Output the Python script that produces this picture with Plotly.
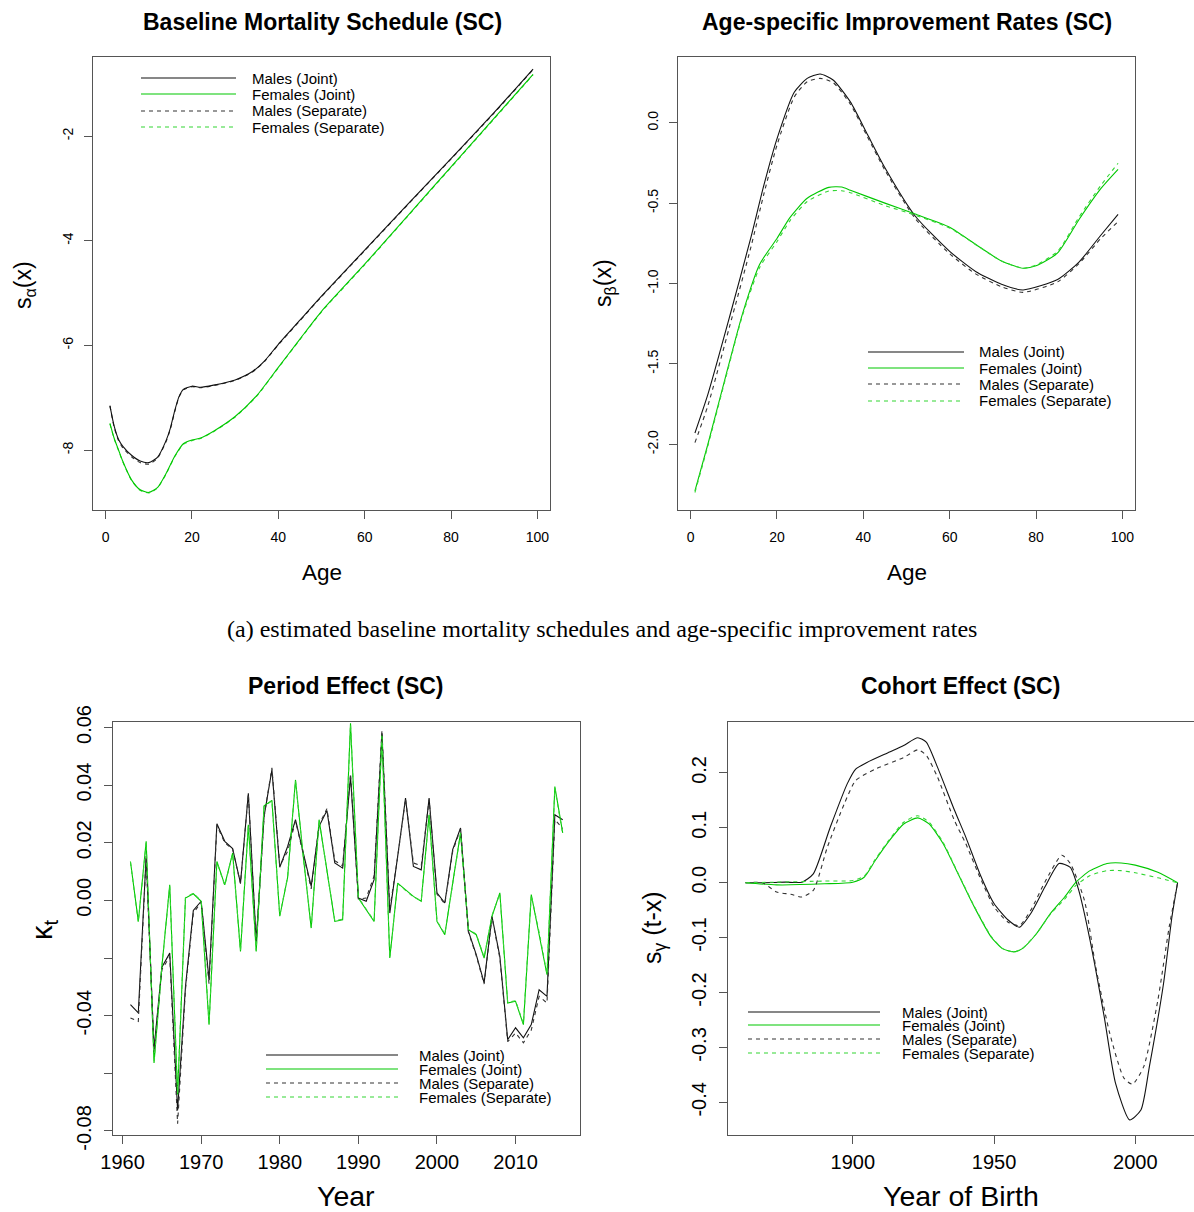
import plotly.graph_objects as go

W, H = 1194, 1212

# ---------------- Data ----------------
# Panel 1: baseline mortality schedule s_alpha(x)
age_a_m = [1, 2, 3, 4, 6, 8, 10, 12, 14, 15, 16, 17, 18, 20, 22, 25, 30, 34, 37, 40, 45, 50, 60, 70, 80, 90, 99]
sa_male_joint = [-7.15, -7.55, -7.80, -7.93, -8.10, -8.21, -8.24, -8.14, -7.82, -7.58, -7.25, -6.98, -6.84, -6.78,
                 -6.80, -6.76, -6.66, -6.50, -6.28, -5.98, -5.52, -5.06, -4.18, -3.30, -2.43, -1.55, -0.72]
sa_male_sep = [-7.16, -7.57, -7.82, -7.96, -8.13, -8.24, -8.27, -8.16, -7.84, -7.60, -7.27, -6.99, -6.85, -6.79,
               -6.81, -6.77, -6.67, -6.51, -6.29, -5.99, -5.53, -5.07, -4.19, -3.31, -2.44, -1.56, -0.73]
age_a_f = [1, 2, 3, 4, 6, 8, 10, 12, 14, 16, 18, 20, 22, 25, 30, 35, 40, 45, 50, 60, 70, 80, 90, 99]
sa_female_joint = [-7.49, -7.78, -8.00, -8.22, -8.57, -8.76, -8.81, -8.72, -8.45, -8.12, -7.88, -7.81, -7.77,
                   -7.64, -7.36, -6.96, -6.42, -5.88, -5.35, -4.45, -3.52, -2.59, -1.66, -0.82]
sa_female_sep = [-7.50, -7.79, -8.01, -8.23, -8.58, -8.77, -8.82, -8.73, -8.46, -8.13, -7.89, -7.82, -7.78,
                 -7.65, -7.37, -6.97, -6.43, -5.89, -5.36, -4.46, -3.53, -2.60, -1.67, -0.83]

# Panel 2: age-specific improvement rates s_beta(x)
age_b_m = [1, 4, 9, 14, 17, 20, 24, 27, 30, 33, 37, 41, 45, 52, 60, 66, 72, 77, 85, 90, 95, 99]
sb_male_joint = [-1.93, -1.69, -1.21, -0.71, -0.385, -0.10, 0.19, 0.276, 0.303, 0.266, 0.13, -0.075, -0.28,
                 -0.58, -0.80, -0.925, -1.005, -1.04, -0.975, -0.865, -0.70, -0.57]
sb_male_sep = [-1.99, -1.76, -1.27, -0.77, -0.44, -0.14, 0.16, 0.255, 0.276, 0.25, 0.115, -0.09, -0.295,
               -0.595, -0.815, -0.94, -1.02, -1.055, -0.99, -0.875, -0.72, -0.615]
age_b_f = [1, 4, 8, 12, 16, 20, 23, 27, 32, 35, 37, 45, 52, 60, 67, 72, 77, 80, 85, 90, 95, 99]
sb_female_joint = [-2.29, -2.00, -1.59, -1.19, -0.88, -0.72, -0.59, -0.47, -0.402, -0.40, -0.42, -0.50, -0.568,
                   -0.65, -0.775, -0.86, -0.905, -0.89, -0.81, -0.60, -0.41, -0.29]
sb_female_sep = [-2.30, -2.01, -1.60, -1.20, -0.90, -0.74, -0.61, -0.49, -0.425, -0.423, -0.435, -0.515, -0.575,
                 -0.655, -0.775, -0.86, -0.905, -0.885, -0.80, -0.585, -0.39, -0.252]

# Panel 3: period effect kappa_t
years = list(range(1961, 2017))
kappa_male_joint = [-0.0362, -0.0390, 0.0155, -0.0515, -0.0232, -0.0183, -0.0728, -0.0300, -0.0035, -0.0003,
                    -0.0275, 0.0266, 0.0205, 0.0180, 0.0060, 0.0372, -0.0142, 0.0291, 0.0453, 0.0115,
                    0.0187, 0.0280, 0.0164, 0.0049, 0.0257, 0.0312, 0.0130, 0.0112, 0.0430, 0.0008,
                    -0.0003, 0.0072, 0.0580, -0.0044, 0.0153, 0.0355, 0.0118, 0.0106, 0.0355, 0.0026,
                    -0.0009, 0.0176, 0.0251, -0.0107, -0.0188, -0.0286, -0.0055, -0.0194, -0.0483, -0.0442,
                    -0.0477, -0.0431, -0.0310, -0.0333, 0.0297, 0.0280]
kappa_male_sep = [-0.0408, -0.0420, 0.0150, -0.0525, -0.0240, -0.0195, -0.0775, -0.0310, -0.0045, -0.0005,
                  -0.0290, 0.0260, 0.0200, 0.0178, 0.0058, 0.0370, -0.0145, 0.0290, 0.0460, 0.0120,
                  0.0170, 0.0275, 0.0160, 0.0040, 0.0262, 0.0318, 0.0138, 0.0120, 0.0440, 0.0005,
                  0.0008, 0.0085, 0.0590, -0.0030, 0.0150, 0.0352, 0.0130, 0.0120, 0.0350, 0.0022,
                  -0.0012, 0.0170, 0.0248, -0.0110, -0.0192, -0.0290, -0.0058, -0.0200, -0.0490, -0.0460,
                  -0.0494, -0.0450, -0.0333, -0.0356, 0.0280, 0.0250]
kappa_female_joint = [0.0135, -0.0073, 0.0205, -0.0564, -0.0230, 0.0054, -0.0673, 0.0008, 0.0023, -0.0003,
                      -0.0431, 0.0135, 0.0054, 0.0164, -0.0177, 0.0262, -0.0177, 0.0328, 0.0347, -0.0055,
                      0.0080, 0.0418, 0.0150, -0.0096, 0.0280, 0.0106, -0.0073, -0.0067, 0.0615, 0.0008,
                      -0.0032, -0.0073, 0.0574, -0.0200, 0.0060, 0.0037, 0.0014, -0.0003, 0.0297, -0.0073,
                      -0.0119, 0.0060, 0.0234, -0.0102, -0.0119, -0.0200, -0.0055, 0.0026, -0.0356, -0.0350,
                      -0.0431, 0.0020, -0.0113, -0.0258, 0.0395, 0.0234]
kappa_female_sep = [0.0133, -0.0075, 0.0200, -0.0560, -0.0228, 0.0050, -0.0670, 0.0010, 0.0025, -0.0002,
                    -0.0428, 0.0133, 0.0052, 0.0162, -0.0175, 0.0260, -0.0175, 0.0326, 0.0345, -0.0053,
                    0.0082, 0.0415, 0.0148, -0.0094, 0.0278, 0.0104, -0.0071, -0.0065, 0.0610, 0.0010,
                    -0.0030, -0.0071, 0.0570, -0.0198, 0.0058, 0.0035, 0.0012, -0.0001, 0.0295, -0.0071,
                    -0.0117, 0.0058, 0.0232, -0.0100, -0.0117, -0.0198, -0.0053, 0.0024, -0.0354, -0.0348,
                    -0.0428, 0.0018, -0.0111, -0.0256, 0.0390, 0.0230]

# Panel 4: cohort effect s_gamma(t-x)
coh_mj = [1862, 1868, 1876, 1882, 1886, 1892, 1898, 1901, 1905, 1913, 1918, 1923, 1926, 1930, 1936, 1940, 1945,
          1950, 1955, 1959, 1963, 1968, 1973, 1977, 1980, 1984, 1989, 1993, 1998, 2002, 2005, 2010, 2013, 2015]
sg_male_joint = [0, 0, 0.001, 0.001, 0.016, 0.101, 0.18, 0.207, 0.219, 0.238, 0.25, 0.264, 0.256, 0.21, 0.132,
                 0.083, 0.016, -0.038, -0.068, -0.081, -0.056, -0.008, 0.035, 0.028, -0.014, -0.105, -0.244,
                 -0.365, -0.432, -0.414, -0.335, -0.184, -0.062, 0]
coh_ms = [1862, 1868, 1873, 1878, 1882, 1886, 1891, 1897, 1901, 1908, 1918, 1923, 1926, 1930, 1936, 1940, 1945,
          1950, 1955, 1959, 1963, 1968, 1974, 1977, 1982, 1986, 1991, 1996, 1999, 2003, 2008, 2012, 2015]
sg_male_sep = [0, 0, -0.017, -0.021, -0.026, -0.014, 0.065, 0.144, 0.186, 0.207, 0.228, 0.242, 0.232, 0.192, 0.113,
               0.071, 0.01, -0.044, -0.072, -0.078, -0.05, 0.001, 0.05, 0.035, -0.032, -0.153, -0.275, -0.356,
               -0.367, -0.335, -0.214, -0.081, 0]
coh_f = [1862, 1873, 1890, 1900, 1904, 1908, 1913, 1918, 1923, 1927, 1932, 1937, 1943, 1949, 1953, 1957, 1960,
         1965, 1970, 1975, 1979, 1984, 1990, 1995, 2000, 2008, 2015]
sg_female_joint = [0, -0.004, -0.002, 0.001, 0.010, 0.041, 0.077, 0.107, 0.118, 0.107, 0.071, 0.019, -0.044,
                   -0.099, -0.12, -0.126, -0.12, -0.093, -0.056, -0.026, 0.001, 0.022, 0.035, 0.036, 0.032,
                   0.019, 0]
sg_female_sep = [0, 0.001, 0.003, 0.004, 0.012, 0.043, 0.079, 0.110, 0.122, 0.110, 0.073, 0.020, -0.043, -0.098,
                 -0.12, -0.126, -0.12, -0.093, -0.057, -0.03, -0.005, 0.013, 0.022, 0.022, 0.018, 0.009, 0]

legend_labels = ["Males (Joint)", "Females (Joint)", "Males (Separate)", "Females (Separate)"]

# ---------------- Styling ----------------
FONT = "Liberation Sans, Arial, sans-serif"
SERIF = "Liberation Serif, Times New Roman, serif"
C_M = "#111111"
C_MS = "#333333"
C_F = "#00C800"
C_FS = "#33D633"
DASH = "4px,4px"
styles = [dict(color=C_M, width=1.1, dash="solid"),
          dict(color=C_F, width=1.1, dash="solid"),
          dict(color=C_MS, width=1.1, dash=DASH),
          dict(color=C_FS, width=1.1, dash=DASH)]

def fx(px):
    return px / W

def fy(py):
    return 1 - py / H

# panel boxes in pixels: (x0, x1, y_top, y_bottom)
boxes = {
    1: (93, 550, 57, 510),
    2: (678, 1135, 57, 510),
    3: (113, 580, 722, 1135),
    4: (728, 1194, 722, 1135),
}

fig = go.Figure()

def add(xs, ys, panel, st, shape="linear"):
    sfx = "" if panel == 1 else str(panel)
    line = dict(**st, shape=shape, smoothing=0.6) if shape == "spline" else dict(**st)
    fig.add_trace(go.Scatter(x=xs, y=ys, mode="lines", line=line,
                             xaxis="x" + sfx, yaxis="y" + sfx, showlegend=False, hoverinfo="skip"))

add(age_a_m, sa_male_sep, 1, styles[2], "spline")
add(age_a_f, sa_female_sep, 1, styles[3], "spline")
add(age_a_m, sa_male_joint, 1, styles[0], "spline")
add(age_a_f, sa_female_joint, 1, styles[1], "spline")

add(age_b_m, sb_male_joint, 2, styles[0], "spline")
add(age_b_f, sb_female_joint, 2, styles[1], "spline")
add(age_b_m, sb_male_sep, 2, styles[2], "spline")
add(age_b_f, sb_female_sep, 2, styles[3], "spline")

add(years, kappa_male_joint, 3, styles[0])
add(years, kappa_female_joint, 3, styles[1])
add(years, kappa_male_sep, 3, styles[2])
add(years, kappa_female_sep, 3, styles[3])

add(coh_mj, sg_male_joint, 4, styles[0], "spline")
add(coh_f, sg_female_joint, 4, styles[1], "spline")
add(coh_ms, sg_male_sep, 4, styles[2], "spline")
add(coh_f, sg_female_sep, 4, styles[3], "spline")

axis_common = dict(showline=True, mirror=True, linecolor="#555555", linewidth=1, ticks="outside", ticklen=8,
                   tickcolor="#555555", tickwidth=1, showgrid=False, zeroline=False, color="#000000",
                   automargin=False)

xranges = {1: [-2.92, 102.92], 2: [-2.92, 102.92], 3: [1958.78, 2018.2], 4: [1855.8, 2020.8]}
yranges = {1: [-9.146, -0.49], 2: [-2.409, 0.409], 3: [-0.0814, 0.0619], 4: [-0.4595, 0.2927]}
xticks = {1: [0, 20, 40, 60, 80, 100], 2: [0, 20, 40, 60, 80, 100],
          3: [1960, 1970, 1980, 1990, 2000, 2010], 4: [1900, 1950, 2000]}
yticks = {1: ([-8, -6, -4, -2], ["-8", "-6", "-4", "-2"]),
          2: ([-2, -1.5, -1, -0.5, 0], ["-2.0", "-1.5", "-1.0", "-0.5", "0.0"]),
          3: ([-0.08, -0.04, 0, 0.02, 0.04, 0.06], ["-0.08", "-0.04", "0.00", "0.02", "0.04", "0.06"]),
          4: ([-0.4, -0.3, -0.2, -0.1, 0, 0.1, 0.2], ["-0.4", "-0.3", "-0.2", "-0.1", "0.0", "0.1", "0.2"])}
# unlabeled ticks (labels dropped because of overlap in the original)
yticks_unlabeled = {3: [-0.06, -0.02]}
tfs = {1: 14, 2: 14, 3: 20, 4: 20}
xstand = {1: 6, 2: 6, 3: 1, 4: 1}
ystand = {1: 5, 2: 5, 3: 5, 4: 5}

layout = {}
for p, (x0, x1, yt, yb) in boxes.items():
    sfx = "" if p == 1 else str(p)
    layout["xaxis" + sfx] = dict(axis_common, domain=[fx(x0), fx(x1)], range=xranges[p], tickvals=xticks[p],
                                 anchor="y" + sfx, ticklabelstandoff=xstand[p],
                                 tickfont=dict(family=FONT, size=tfs[p], color="#000"))
    tv, tt = yticks[p]
    ya = dict(axis_common, domain=[fy(yb), fy(yt)], range=yranges[p], tickvals=tv, ticktext=tt,
              anchor="x" + sfx, tickangle=-90, ticklabelstandoff=ystand[p],
              tickfont=dict(family=FONT, size=tfs[p], color="#000"))
    if p in yticks_unlabeled:
        ya["minor"] = dict(tickvals=yticks_unlabeled[p], ticks="outside", ticklen=8, tickcolor="#555555",
                           tickwidth=1, showgrid=False)
    layout["yaxis" + sfx] = ya

annotations = []
def text(x, y, s, size, bold=False, angle=0, family=FONT, xanchor="center"):
    annotations.append(dict(x=fx(x), y=fy(y), xref="paper", yref="paper", text=("<b>%s</b>" % s) if bold else s,
                            showarrow=False, textangle=angle, xanchor=xanchor, yanchor="middle",
                            font=dict(family=family, size=size, color="#000")))

# titles
text(322, 22, "Baseline Mortality Schedule (SC)", 23, bold=True)
text(907, 22, "Age-specific Improvement Rates (SC)", 23, bold=True)
text(346, 686, "Period Effect (SC)", 23, bold=True)
text(961, 686, "Cohort Effect (SC)", 23, bold=True)
# axis titles
text(322, 572, "Age", 22.5)
text(907, 572, "Age", 22.5)
text(346, 1196, "Year", 28.5)
text(961, 1196, "Year of Birth", 28.5)
text(24, 285, "s<sub>α</sub>(x)", 23, angle=-90)
text(604, 283, "s<sub>β</sub>(x)", 23, angle=-90)
text(44, 930, "κ<sub>t</sub>", 29, angle=-90)
text(654, 928, "s<sub>γ</sub> (t-x)", 25, angle=-90)
# caption
text(602, 629, "(a) estimated baseline mortality schedules and age-specific improvement rates", 24, family=SERIF)

# legends (key lines + labels)
shapes = []
legends = [
    (141, 236, 250, [78, 94, 111, 127], 15),
    (868, 964, 977, [352, 368, 384, 401], 15),
    (266, 398, 417, [1055, 1069, 1083, 1097], 15),
    (748, 880, 900, [1012, 1025, 1039, 1053], 15),
]
for (lx0, lx1, tx, rows, fs) in legends:
    for st, lab, ry in zip(styles, legend_labels, rows):
        shapes.append(dict(type="line", xref="paper", yref="paper", x0=fx(lx0), x1=fx(lx1), y0=fy(ry), y1=fy(ry),
                           line=dict(color=st["color"], width=1.2, dash=st["dash"])))
        text(tx, ry, lab, fs, xanchor="left")

fig.update_layout(**layout)
fig.update_layout(width=W, height=H, autosize=False, margin=dict(l=0, r=0, t=0, b=0, autoexpand=False),
                  plot_bgcolor="white", paper_bgcolor="white", annotations=annotations, shapes=shapes,
                  showlegend=False, font=dict(family=FONT, color="#000"))

fig.write_html("out.html")
